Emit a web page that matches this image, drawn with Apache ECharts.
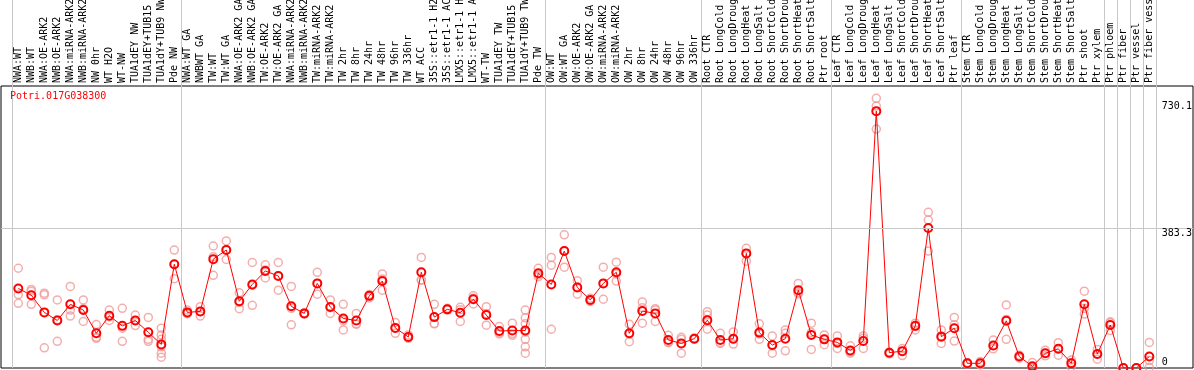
<!DOCTYPE html>
<html>
<head>
<meta charset="utf-8">
<script src="https://cdn.jsdelivr.net/npm/echarts@6/dist/echarts.min.js"></script>
<style>
html,body{margin:0;padding:0;background:#fff;}
#chart{width:1194px;height:370px;}
</style>
</head>
<body>
<div id="chart"></div>
<script>
var geneId = 'Potri.017G038300';

var categories = [
 'NWA:WT','NWB:WT','NWA:OE-ARK2','NWB:OE-ARK2','NWA:miRNA-ARK2','NWB:miRNA-ARK2','NW 0hr','WT H2O','WT-NW','TUA1dEY NW','TUA1dEY+TUB15','TUA1dY+TUB9 NW','Pde NW',
 'NWA:WT GA','NWBWT GA','TW:WT','TW:WT GA','NWA:OE-ARK2 GA','NWB:OE-ARK2 GA','TW:OE-ARK2','TW:OE-ARK2 GA','NWA:miRNA-ARK2','NWB:miRNA-ARK2','TW:miRNA-ARK2','TW:miRNA-ARK2',
 'TW 2hr','TW 8hr','TW 24hr','TW 48hr','TW 96hr','TW 336hr','WT ACC','35S::etr1-1 H2O','35S::etr1-1 ACC','LMX5::etr1-1 H2O','LMX5::etr1-1 ACC','WT-TW','TUA1dEY TW','TUA1dEY+TUB15','TUA1dY+TUB9 TW','Pde TW',
 'OW:WT','OW:WT GA','OW:OE-ARK2','OW:OE-ARK2 GA','OW:miRNA-ARK2','OW:miRNA-ARK2','OW 2hr','OW 8hr','OW 24hr','OW 48hr','OW 96hr','OW 336hr',
 'Root CTR','Root LongCold','Root LongDrought','Root LongHeat','Root LongSalt','Root ShortCold','Root ShortDrought','Root ShortHeat','Root ShortSalt','Ptr root',
 'Leaf CTR','Leaf LongCold','Leaf LongDrought','Leaf LongHeat','Leaf LongSalt','Leaf ShortCold','Leaf ShortDrought','Leaf ShortHeat','Leaf ShortSalt','Ptr leaf',
 'Stem CTR','Stem LongCold','Stem LongDrought','Stem LongHeat','Stem LongSalt','Stem ShortCold','Stem ShortDrought','Stem ShortHeat','Stem ShortSalt','Ptr shoot','Ptr xylem',
 'Ptr phloem','Ptr fiber','Ptr vessel','Ptr fiber vessel'
];

// group boundaries (index of first category of each group, plus end)
var groupStarts = [0,13,41,53,63,73,84,85,86,87,88];

var means = [
 204,184,133,109,157,140,71,123,93,109,74,38,276,
 133,136,291,318,166,216,256,241,151,130,219,149,
 115,109,182,226,87,60,252,119,142,132,172,125,78,79,79,249,
 216,315,207,170,219,252,71,137,130,51,41,55,
 110,51,55,308,73,36,55,199,66,53,
 44,20,48,730.1,13.5,18,93,383.3,61,86,
 -18,-18,35,108,2,-27,11.5,25,-18,157,9.5,
 95.5,-32,-32,2
];

var replicates = [
 [264,186,160],[201,196,157],[190,185,28],[170,111,47],[210,140,122],[170,106,144],[97,59,56],[140,109,120],[145,47,86],[125,94,109],[118,53,47],[86,66,53,31,12,0],[318,233,275],
 [140,130,129],[150,122,136],[330,298,243],[345,290,319],[191,144,162],[281,154,213],[274,235,259],[281,199,242],[210,96,145],[132,130,128],[252,187,219],[170,130,147],
 [157,81,108],[130,98,99],[186,176,182],[247,199,232],[103,71,86],[66,56,58],[296,229,229],[157,99,100],[145,142,140],[148,106,141],[182,158,175],[150,95,130],[91,69,73],[101,65,70],[140,117,99,75,53,31,12],[264,239,244],
 [296,273,83],[363,267,316],[227,187,208],[175,165,170],[267,172,219],[282,226,247],[98,46,69],[164,101,147],[144,106,140],[65,45,43],[59,53,12],[57,55,53],
 [135,125,83],[71,43,41],[75,53,39],[323,308,285],[99,69,53],[63,34,12],[81,71,19],[219,192,188],[101,73,23],[66,53,37],
 [63,41,26],[34,16,12],[63,56,26],[768,745,677],[15,12,10],[26,18,5],[101,91,81],[430,407,315],[81,63,41],[118,96,48],
 [-16,-18,-20],[-13,-20,-23],[51,35,25],[155,112,53],[6,2,-3],[-16,-28,-32],[21,12,4],[43,25,6],[-8,-16,-28],[196,128,145],[23,9,-6],
 [105,102,79],[-32,-32,-32],[-32,-32,-32],[44,-30,-10]
];

var yTickValues = [730.1, 383.3, 0];
var yGridValues = [383.3];

var Y_MIN = -32, Y_MAX = 804.7;

var repPoints = [];
replicates.forEach(function(arr, i){ arr.forEach(function(v){ repPoints.push([i, v]); }); });

var mono = 'DejaVu Sans Mono';
var sepSet = {};
groupStarts.forEach(function(k){ sepSet[k] = true; });
function sepInterval(index){ return !!sepSet[index]; }

var chart = echarts.init(document.getElementById('chart'), null, {renderer:'canvas'});
chart.setOption({
  animation: false,
  backgroundColor: '#ffffff',
  title: {
    text: geneId, left: 10, top: 91, padding: 0,
    textStyle: {color:'#ff0000', fontFamily: mono, fontSize: 10, fontWeight: 'normal'}
  },
  grid: [
    {left: 1, top: 86, width: 1192, height: 282, show: true, borderColor: '#000', borderWidth: 1, backgroundColor: 'transparent', outerBoundsMode: 'none', containLabel: false},
    {left: 11.8, top: 0, width: 1144, height: 86, outerBoundsMode: 'none', containLabel: false},
    {left: 11.8, top: 86, width: 1144, height: 282, outerBoundsMode: 'none', containLabel: false}
  ],
  xAxis: [
    {gridIndex: 0, type: 'value', min: 0, max: 1, show: false},
    {gridIndex: 1, type: 'category', data: categories, boundaryGap: true,
     axisLine:{show:false}, axisTick:{show:false}, axisLabel:{show:false},
     splitLine:{show:true, interval: sepInterval, lineStyle:{color:'#c8c8c8', width:1}}},
    {gridIndex: 2, type: 'category', data: categories, position: 'top', boundaryGap: true,
     axisLine:{show:false}, axisTick:{show:false},
     axisLabel:{show:true, interval: 0, rotate: 90, margin: 3, color:'#000', fontFamily: mono, fontSize: 10, hideOverlap: false},
     splitLine:{show:true, interval: sepInterval, lineStyle:{color:'#c8c8c8', width:1}}}
  ],
  yAxis: [
    {gridIndex: 0, type: 'value', min: Y_MIN, max: Y_MAX, show: false},
    {gridIndex: 1, type: 'value', min: 0, max: 1, show: false},
    {gridIndex: 2, type: 'value', min: Y_MIN, max: Y_MAX, show: false}
  ],
  series: [
    {
      type: 'scatter', xAxisIndex: 0, yAxisIndex: 0, data: [[0.5, 0]], symbolSize: 0, silent: true,
      markLine: {
        silent: true, symbol: 'none', animation: false,
        lineStyle: {color: '#c8c8c8', type: 'solid', width: 1},
        label: {show: false},
        data: yGridValues.map(function(v){ return {yAxis: v}; })
      }
    },
    {
      type: 'scatter', xAxisIndex: 2, yAxisIndex: 2, data: repPoints,
      symbol: 'circle', symbolSize: 8, z: 3,
      itemStyle: {color: 'rgba(255,255,255,0)', borderColor: '#f09a9a', borderWidth: 1.5}
    },
    {
      type: 'line', xAxisIndex: 2, yAxisIndex: 2, data: means, z: 4,
      symbol: 'circle', symbolSize: 8, showSymbol: true,
      lineStyle: {color: '#ff0000', width: 1},
      itemStyle: {color: 'rgba(255,255,255,0)', borderColor: '#ff0000', borderWidth: 2}
    },
    {
      type: 'scatter', xAxisIndex: 2, yAxisIndex: 2, data: [], silent: true, z: 5,
      markLine: {
        silent: true, symbol: 'none', animation: false,
        lineStyle: {color: 'rgba(255,255,255,0)', width: 1, type: 'solid'},
        label: {show: true, position: 'end', distance: 6, formatter: '{c}', color: '#000', fontFamily: mono, fontSize: 10},
        data: yTickValues.map(function(v, i){
          return {yAxis: v, label: {verticalAlign: i === 0 ? 'bottom' : 'top'}};
        })
      }
    }
  ]
});
</script>
</body>
</html>
